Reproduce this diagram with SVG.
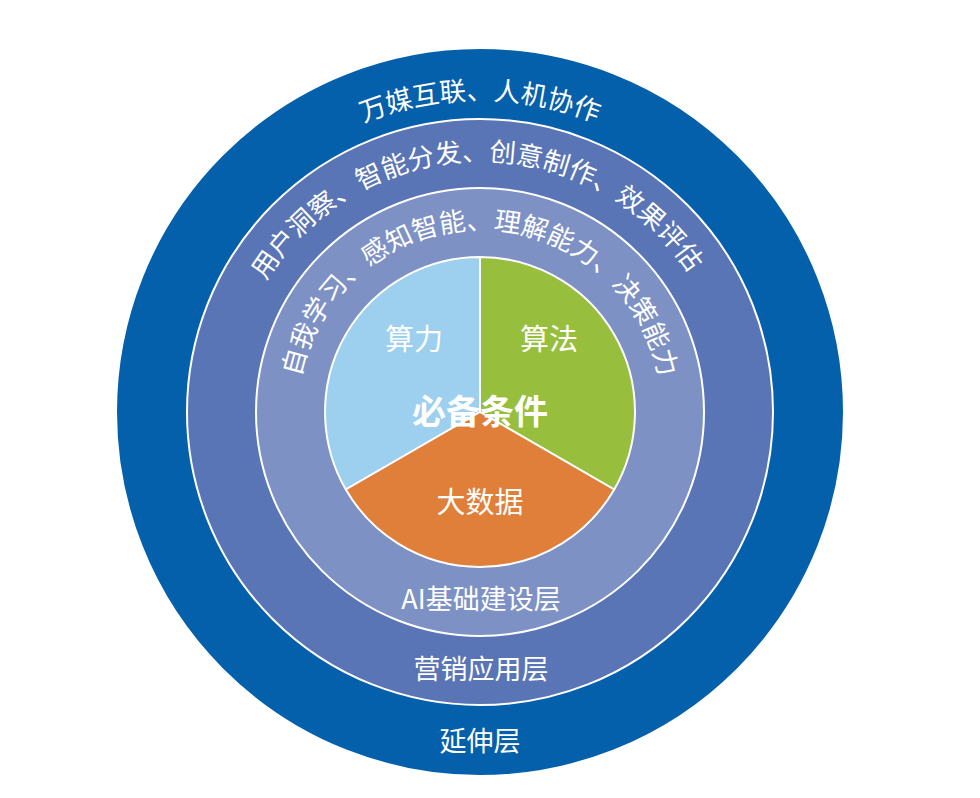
<svg xmlns="http://www.w3.org/2000/svg" xmlns:xlink="http://www.w3.org/1999/xlink" width="980" height="798" viewBox="0 0 980 798">
  <style>
    .ring { stroke: #ffffff; stroke-width: 2; }
    .sector { stroke: #ffffff; stroke-width: 2; stroke-linejoin: round; }
    .lbl { font-family: "Noto Sans CJK SC", "Liberation Sans", sans-serif; fill: #ffffff; text-anchor: middle; }
    .arc { font-size: 26.5px; }
    .layer { font-size: 27px; }
    .pie { font-size: 29px; }
    .core { font-size: 34px; font-weight: bold; }
  </style>
  <defs>
    <path id="p-outer" d="M168,412 A312,312 0 0 1 792,412"/>
    <path id="p-mid" d="M229,412 A251,251 0 0 1 731,412"/>
    <path id="p-inner" d="M297.5,412 A182.5,182.5 0 0 1 662.5,412"/>
  </defs>
  <rect width="980" height="798" fill="#ffffff"/>

  <g id="ring-extension">
    <circle class="ring" cx="480" cy="412" r="364" fill="#0560AB" stroke="none"/>
    <text class="lbl arc"><textPath xlink:href="#p-outer" href="#p-outer" startOffset="50%">万媒互联、人机协作</textPath></text>
    <text class="lbl layer" x="480" y="751">延伸层</text>
  </g>

  <g id="ring-marketing">
    <circle class="ring" cx="480" cy="412" r="293" fill="#5975B5"/>
    <text class="lbl arc"><textPath xlink:href="#p-mid" href="#p-mid" startOffset="389.5">用户洞察、智能分发、创意制作、效果评估</textPath></text>
    <text class="lbl layer" x="481" y="679">营销应用层</text>
  </g>

  <g id="ring-ai-base">
    <circle class="ring" cx="480" cy="412" r="224" fill="#7E91C5"/>
    <text class="lbl arc"><textPath xlink:href="#p-inner" href="#p-inner" startOffset="50%">自我学习、感知智能、理解能力、决策能力</textPath></text>
    <text class="lbl layer" x="481" y="609">AI基础建设层</text>
  </g>

  <g id="sector-compute">
    <path class="sector" d="M480,412 L480,257 A155,155 0 0 0 345.8,489.5 Z" fill="#9DCFEE"/>
    <text class="lbl pie" x="414" y="350">算力</text>
  </g>

  <g id="sector-algorithm">
    <path class="sector" d="M480,412 L480,257 A155,155 0 0 1 614.2,489.5 Z" fill="#97BF3D"/>
    <text class="lbl pie" x="549" y="350">算法</text>
  </g>

  <g id="sector-bigdata">
    <path class="sector" d="M480,412 L345.8,489.5 A155,155 0 0 0 614.2,489.5 Z" fill="#E07F3A"/>
    <text class="lbl pie" x="480" y="513">大数据</text>
  </g>

  <g id="core">
    <text class="lbl core" x="480" y="424">必备条件</text>
  </g>

  <g id="connectors"></g>
</svg>
